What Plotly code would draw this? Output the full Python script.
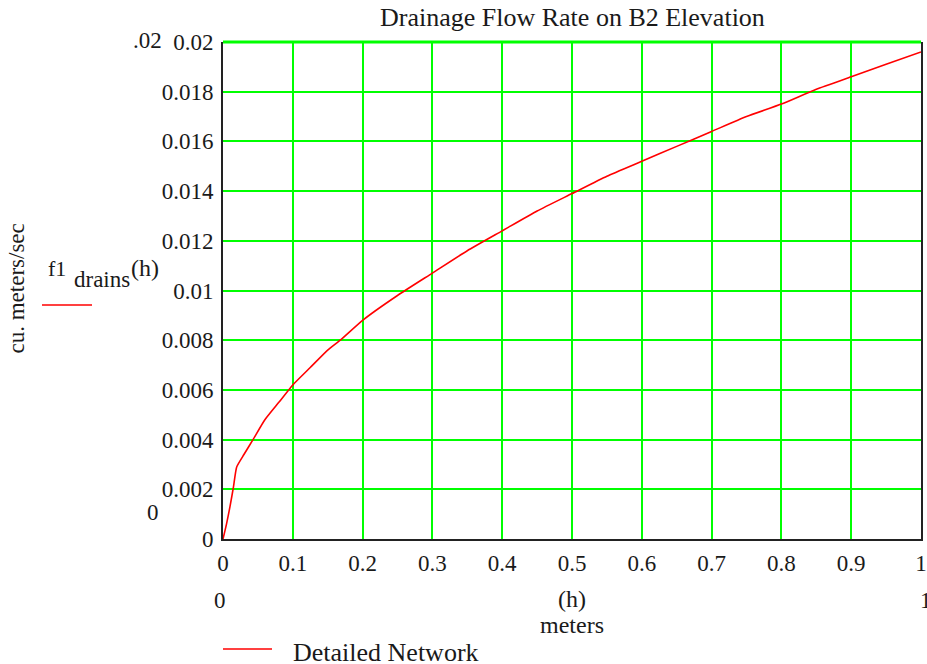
import plotly.graph_objects as go

# Data
h_values = [0.0, 0.005, 0.01, 0.015, 0.0196, 0.03, 0.043, 0.06, 0.08, 0.1, 0.125, 0.15, 0.168,
            0.2, 0.25, 0.3, 0.35, 0.4, 0.45, 0.5, 0.55, 0.6, 0.65, 0.7, 0.75, 0.8, 0.85, 0.9, 0.95, 1.0]
flow_values = [0.0, 0.0006, 0.0013, 0.0021, 0.0029, 0.0034, 0.0040, 0.0048, 0.0055, 0.0062, 0.0069,
               0.0076, 0.0080, 0.0088, 0.0098, 0.0107, 0.0116, 0.0124, 0.0132, 0.0139, 0.0146,
               0.0152, 0.0158, 0.0164, 0.0170, 0.0175, 0.0181, 0.0186, 0.0191, 0.0196]

x_tickvals = [0, 0.1, 0.2, 0.3, 0.4, 0.5, 0.6, 0.7, 0.8, 0.9, 1.0]
x_ticktext = ["0", "0.1", "0.2", "0.3", "0.4", "0.5", "0.6", "0.7", "0.8", "0.9", "1"]
y_tickvals = [0, 0.002, 0.004, 0.006, 0.008, 0.01, 0.012, 0.014, 0.016, 0.018, 0.02]
y_ticktext = ["0", "0.002", "0.004", "0.006", "0.008", "0.01", "0.012", "0.014", "0.016", "0.018", "0.02"]

title_text = "Drainage Flow Rate on B2 Elevation"
series_name = "Detailed Network"

FONT = "Liberation Serif, Times New Roman, serif"
TXT = "#1a1a1a"
GREEN = "#00ff00"
RED = "#ff0000"

fig = go.Figure()
fig.add_trace(go.Scatter(x=h_values, y=flow_values, mode="lines",
                         line=dict(color=RED, width=1.6, shape="spline", smoothing=0.5),
                         name=series_name, showlegend=False, cliponaxis=False))

fig.update_layout(
    width=927, height=664,
    margin=dict(l=223, r=6, t=42, b=125, autoexpand=False),
    paper_bgcolor="white", plot_bgcolor="white",
    font=dict(family=FONT, size=23, color=TXT),
    showlegend=False,
)
fig.update_xaxes(range=[0, 1], tickvals=x_tickvals, ticktext=x_ticktext,
                 showgrid=True, gridcolor=GREEN, gridwidth=2,
                 showline=True, linecolor="#222", linewidth=2, mirror=False,
                 zeroline=False, ticks="", ticklabelstandoff=2, automargin=False,
                 tickfont=dict(family=FONT, size=23, color=TXT))
fig.update_yaxes(range=[0, 0.02], tickvals=y_tickvals, ticktext=y_ticktext,
                 showgrid=True, gridcolor=GREEN, gridwidth=2,
                 showline=True, linecolor="#222", linewidth=2, mirror=True,
                 zeroline=False, ticks="", ticklabelstandoff=3, automargin=False,
                 tickfont=dict(family=FONT, size=23, color=TXT))

# green top border
fig.add_shape(type="line", xref="paper", yref="paper", x0=0, x1=1, y0=1, y1=1,
              line=dict(color=GREEN, width=3))


# helpers: paper coords from pixel positions (plot area px 223..921 x, 42..539 y)
def px_x(px):
    return (px - 223) / 698.0


def px_y(py):
    return (539 - py) / 497.0


ann = []
ann.append(dict(text=title_text, xref="paper", yref="paper", x=0.5, y=1, xanchor="center",
                yanchor="bottom", yshift=8, showarrow=False, font=dict(size=26)))
ann.append(dict(text=".02", xref="paper", yref="y", x=0, y=0.02, xanchor="right", yanchor="middle",
                xshift=-59, yshift=2, showarrow=False, font=dict(size=23)))
ann.append(dict(text="0", xref="paper", yref="y", x=0, y=0, xanchor="right", yanchor="middle",
                xshift=-62, yshift=27, showarrow=False, font=dict(size=23)))
ann.append(dict(text="0", xref="x", yref="paper", x=0, y=0, xanchor="center", yanchor="middle",
                xshift=-3, yshift=-61, showarrow=False, font=dict(size=23)))
ann.append(dict(text="1", xref="x", yref="paper", x=1, y=0, xanchor="center", yanchor="middle",
                xshift=5, yshift=-61, showarrow=False, font=dict(size=23)))
ann.append(dict(text="(h)", xref="x", yref="paper", x=0.5, y=0, xanchor="center", yanchor="middle",
                yshift=-60, showarrow=False, font=dict(size=24)))
ann.append(dict(text="meters", xref="x", yref="paper", x=0.5, y=0, xanchor="center", yanchor="middle",
                yshift=-86, showarrow=False, font=dict(size=24)))
ann.append(dict(text="cu. meters/sec", xref="paper", yref="paper", x=0, y=0.5, xanchor="center",
                yanchor="middle", xshift=-207, yshift=2, textangle=-90, showarrow=False,
                font=dict(size=23)))
# f1_drains(h) label
ann.append(dict(text="f1", xref="paper", yref="paper", x=px_x(46), y=px_y(268),
                xanchor="left", yanchor="middle", showarrow=False, font=dict(size=22)))
ann.append(dict(text="drains", xref="paper", yref="paper", x=px_x(72), y=px_y(279),
                xanchor="left", yanchor="middle", showarrow=False, font=dict(size=23)))
ann.append(dict(text="(h)", xref="paper", yref="paper", x=px_x(129), y=px_y(268),
                xanchor="left", yanchor="middle", showarrow=False, font=dict(size=24)))
ann.append(dict(text=series_name, xref="paper", yref="paper", x=0, y=0, xanchor="left",
                yanchor="middle", xshift=68, yshift=-113, showarrow=False, font=dict(size=26)))
fig.update_layout(annotations=ann)

fig.add_shape(type="line", xref="paper", yref="paper", x0=px_x(42), x1=px_x(92),
              y0=px_y(305), y1=px_y(305), line=dict(color=RED, width=1.6))
fig.add_shape(type="line", xref="paper", yref="paper", x0=px_x(223), x1=px_x(272),
              y0=px_y(649), y1=px_y(649), line=dict(color=RED, width=1.6))

fig.write_html("out.html", config={"displayModeBar": False},
               post_script="document.body.style.margin='0';document.body.style.overflow='hidden';")
